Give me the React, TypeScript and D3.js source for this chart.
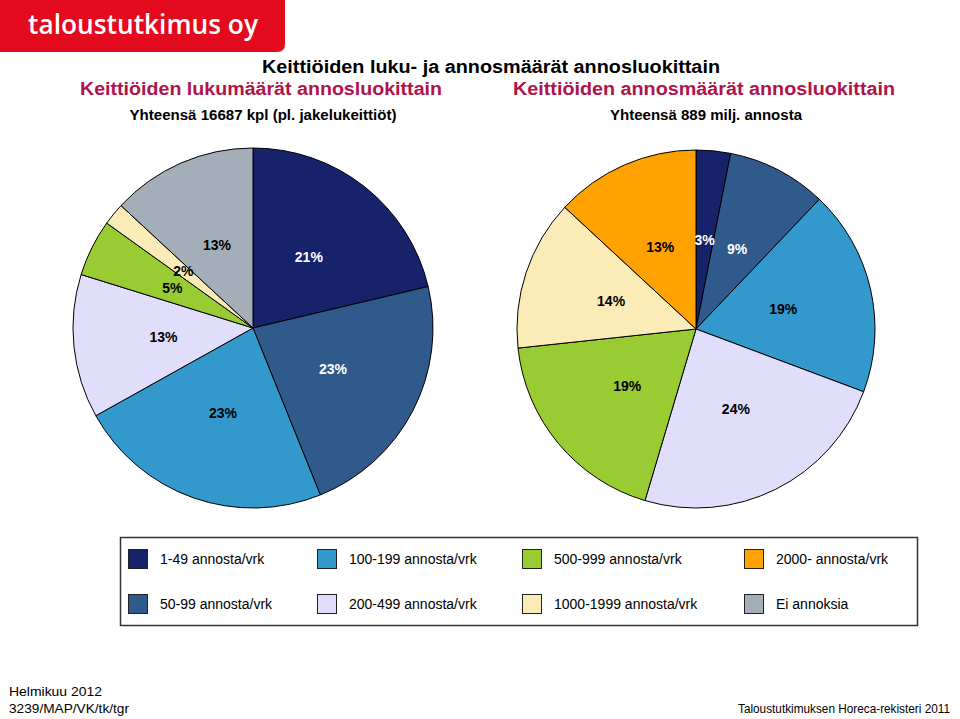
import React from "react";
import * as d3 from "d3";

const categories = [
  "1-49 annosta/vrk",
  "50-99 annosta/vrk",
  "100-199 annosta/vrk",
  "200-499 annosta/vrk",
  "500-999 annosta/vrk",
  "1000-1999 annosta/vrk",
  "2000- annosta/vrk",
  "Ei annoksia",
];
const colors = ["#16226A", "#305A8C", "#3398CC", "#E0DEFA", "#99CC33", "#FBEBB6", "#FFA200", "#A3AEB8"];
const labelColors = ["#FFFFFF", "#FFFFFF", "#000000", "#000000", "#000000", "#000000", "#000000", "#000000"];

// share of kitchens (%) — left pie
const kitchenShare = [21.3, 22.6, 23.0, 12.9, 5.1, 2.0, 0, 13.1];
// share of portions (%) — right pie
const portionShare = [3.1, 9.0, 18.6, 23.9, 18.7, 13.6, 13.1, 0];

const legendOrder = [0, 2, 4, 6, 1, 3, 5, 7];

const FONT = "'Liberation Sans', Arial, Helvetica, sans-serif";
const NARROW = "'Liberation Sans Narrow', 'Arial Narrow', 'Liberation Sans', Arial, sans-serif";

function Pie({ values, cx, cy, r }: { values: number[]; cx: number; cy: number; r: number }) {
  const pie = d3.pie<number>().sort(null).value((d) => d).startAngle(0).endAngle(2 * Math.PI);
  const arcs = pie(values);
  const arc = d3.arc<d3.PieArcDatum<number>>().innerRadius(0).outerRadius(r);
  return (
    <g transform={`translate(${cx},${cy})`}>
      {arcs.map((a, i) =>
        a.value > 0 ? (
          <path key={i} d={arc(a) || ""} fill={colors[i]} stroke="#000" strokeWidth={1} />
        ) : null
      )}
      {arcs.map((a, i) => {
        if (a.value <= 0) return null;
        const [x, y] = arc.centroid(a);
        return (
          <text
            key={"t" + i}
            x={x}
            y={y}
            dy="0.35em"
            textAnchor="middle"
            fontFamily={FONT}
            fontWeight="bold"
            fontSize={14}
            fill={labelColors[i]}
          >
            {Math.round(a.value)}%
          </text>
        );
      })}
    </g>
  );
}

export default function App() {
  const W = 960;
  const H = 719;
  const r = 180;
  const colX = [128, 317, 522, 744];
  const rowY = [549, 594];
  return (
    <svg width={W} height={H} style={{ position: "absolute", left: 0, top: 0, background: "#fff" }}>
      <rect x={0} y={0} width={W} height={H} fill="#fff" />
      {/* logo */}
      <path d="M0,0 H285 V44 Q285,52 277,52 H0 Z" fill="#E30A1E" />
      <text x={28} y={34} fontFamily="'Open Sans', 'DejaVu Sans', sans-serif" fontWeight="600" fontSize={27} fill="#fff" textLength={230} lengthAdjust="spacingAndGlyphs">
        taloustutkimus oy
      </text>

      {/* titles */}
      <text x={491} y={73} textAnchor="middle" fontFamily={FONT} fontSize={18} fill="#000" fontWeight="bold" textLength={458} lengthAdjust="spacingAndGlyphs">
        Keittiöiden luku- ja annosmäärät annosluokittain
      </text>
      <text x={261} y={95} textAnchor="middle" fontFamily={FONT} fontSize={18} fill="#B0134B" fontWeight="bold" textLength={362} lengthAdjust="spacingAndGlyphs">
        Keittiöiden lukumäärät annosluokittain
      </text>
      <text x={704} y={95} textAnchor="middle" fontFamily={FONT} fontSize={18} fill="#B0134B" fontWeight="bold" textLength={382} lengthAdjust="spacingAndGlyphs">
        Keittiöiden annosmäärät annosluokittain
      </text>
      <text x={263} y={120} textAnchor="middle" fontFamily={FONT} fontSize={14} fill="#000" fontWeight="bold" textLength={267} lengthAdjust="spacingAndGlyphs">
        Yhteensä 16687 kpl (pl. jakelukeittiöt)
      </text>
      <text x={706} y={120} textAnchor="middle" fontFamily={FONT} fontSize={14} fill="#000" fontWeight="bold" textLength={192} lengthAdjust="spacingAndGlyphs">
        Yhteensä 889 milj. annosta
      </text>

      <Pie values={kitchenShare} cx={253} cy={328} r={r} />
      <Pie values={portionShare} cx={696} cy={329} r={179} />

      {/* legend */}
      <rect x={120.5} y={537.5} width={797} height={88} fill="#fff" stroke="#333" strokeWidth={1.5} />
      {legendOrder.map((ci, k) => {
        const col = k % 4;
        const row = Math.floor(k / 4);
        const x = colX[col];
        const y = rowY[row];
        return (
          <g key={ci}>
            <rect x={x + 0.5} y={y + 0.5} width={19} height={19} fill={colors[ci]} stroke="#222" strokeWidth={1} />
            <text x={x + 32} y={y + 15} fontFamily={FONT} fontSize={14} fill="#000">
              {categories[ci]}
            </text>
          </g>
        );
      })}

      {/* footer */}
      <text x={9} y={696} fontFamily={NARROW} fontSize={12.5} fill="#000" textLength={93} lengthAdjust="spacingAndGlyphs">
        Helmikuu 2012
      </text>
      <text x={9} y={713} fontFamily={NARROW} fontSize={12.5} fill="#000" textLength={120} lengthAdjust="spacingAndGlyphs">
        3239/MAP/VK/tk/tgr
      </text>
      <text x={950} y={713} textAnchor="end" fontFamily={NARROW} fontSize={12.5} fill="#000" textLength={212} lengthAdjust="spacingAndGlyphs">
        Taloustutkimuksen Horeca-rekisteri 2011
      </text>
    </svg>
  );
}
